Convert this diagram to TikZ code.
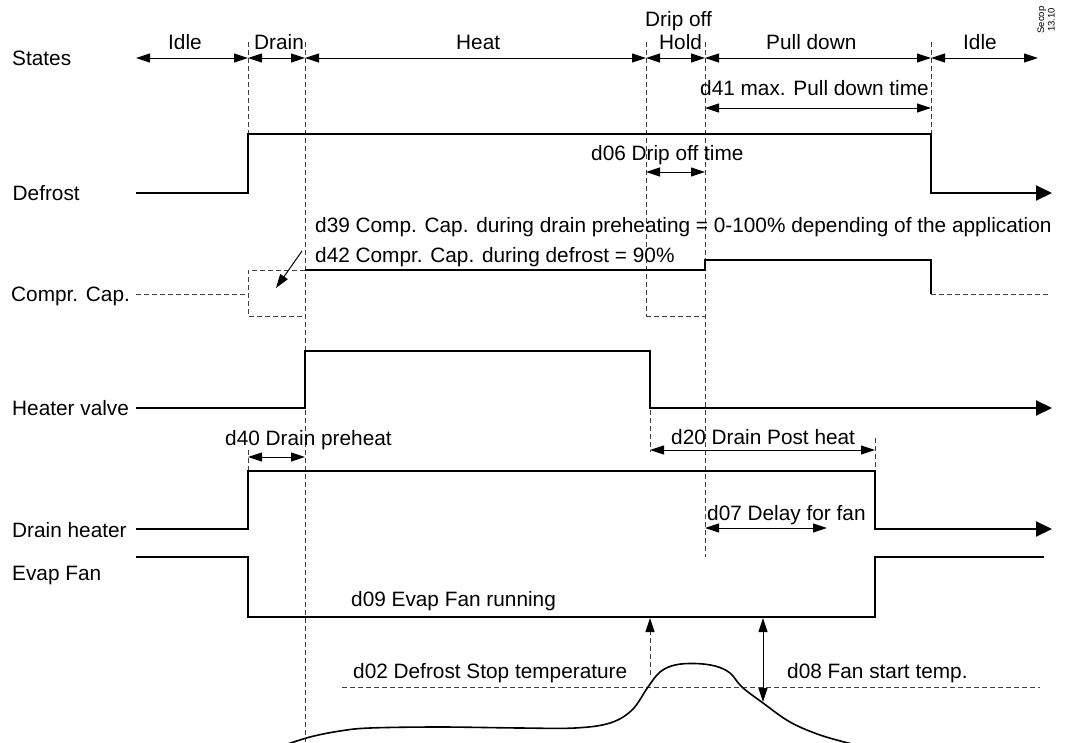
\documentclass[tikz,border=0pt]{standalone}
\usepackage{fontspec}
\setmainfont{Liberation Sans}
\usetikzlibrary{arrows.meta}
\tikzset{
 sig/.style={line width=2pt, line cap=butt, line join=miter},
 sigend/.style={sig, -{Triangle[length=16pt,width=15pt]}},
 dim/.style={line width=1pt, {Triangle[length=14pt,width=9pt]}-{Triangle[length=14pt,width=9pt]}},
 onetip/.style={line width=1pt, -{Triangle[length=14pt,width=9pt]}},
 guide/.style={line width=0.9pt, dash pattern=on 5pt off 3pt, black!75},
 lbl/.style={anchor=base west, inner sep=0pt, font=\fontsize{20.8}{25}\selectfont},
}
\begin{document}
\begin{tikzpicture}[x=1pt,y=-1pt]
\useasboundingbox (0,0) rectangle (1066,742);
\clip (0,0) rectangle (1066,742);
% guide lines
\draw[guide] (248,42) -- (248,134);
\draw[guide] (305,42) -- (305,742);
\draw[guide] (646,42) -- (646,316);
\draw[guide] (705,42) -- (705,557);
\draw[guide] (931,42) -- (931,134);
% states row
\node[lbl] (states) at (12,65) {States};
\node[lbl] (idle1) at (168,49) {Idle};
\node[lbl] (drain) at (254,49) {Drain};
\node[lbl] (heat) at (456,49) {Heat};
\node[lbl] (dripoff) at (645,26) {Drip off};
\node[lbl] (hold) at (659,49) {Hold};
\node[lbl] (pulldown) at (766,49) {Pull down};
\node[lbl] (idle2) at (963,49) {Idle};
\coordinate (s0) at (136,58);
\coordinate (s1) at (248,58);
\coordinate (s2) at (305,58);
\coordinate (s3) at (646,58);
\coordinate (s4) at (705,58);
\coordinate (s5) at (931,58);
\coordinate (s6) at (1038,58);
\draw[dim] (s0) -- (s1);
\draw[dim] (s1) -- (s2);
\draw[dim] (s2) -- (s3);
\draw[dim] (s3) -- (s4);
\draw[dim] (s4) -- (s5);
\draw[dim] (s5) -- (s6);
% d41
\node[lbl] (d41) at (700,95) {d41 max. Pull down time};
\draw[dim] (705,108) -- (931,108);
% Defrost
\node[lbl] (defrost) at (12.5,200) {Defrost};
\draw[sigend] (136,193) -- (248,193) -- (248,134) -- (931,134) -- (931,193) -- (1052,193);
\node[lbl] (d06) at (591,160) {d06 Drip off time};
\draw[dim] (646,172) -- (705,172);
% Compr. Cap.
\node[lbl] (compr) at (11,301) {Compr. Cap.};
\draw[guide] (136,294) -- (248,294);
\draw[guide] (305,270) -- (248,270) -- (248,316) -- (305,316);
\draw[guide] (646,316) -- (705,316);
\draw[sig] (305,270) -- (705,270) -- (705,260) -- (931,260) -- (931,294);
\draw[guide] (931,294) -- (1048,294);
\node[lbl] (d39) at (315,232) {d39 Comp. Cap. during drain preheating = 0-100\% depending of the application};
\node[lbl] (d42) at (315,262) {d42 Compr. Cap. during defrost = 90\%};
\coordinate (d39a) at (302,251);
\coordinate (d39b) at (276,288);
\draw[onetip] (d39a) -- (d39b);
% Heater valve
\node[lbl] (heater) at (12,415) {Heater valve};
\draw[sigend] (136,408) -- (305,408) -- (305,351) -- (650,351) -- (650,408) -- (1052,408);
% d40, d20
\node[lbl] (d40) at (225,445) {d40 Drain preheat};
\draw[guide] (248,450) -- (248,471);
\draw[dim] (248,457) -- (305,457);
\node[lbl] (d20) at (671,444) {d20 Drain Post heat};
\draw[guide] (650,410) -- (650,452);
\draw[guide] (875,438) -- (875,471);
\draw[dim] (650,450) -- (875,450);
% Drain heater
\node[lbl] (dheater) at (12,537) {Drain heater};
\draw[sigend] (136,529) -- (248,529) -- (248,471) -- (875,471) -- (875,529) -- (1052,529);
\node[lbl] (d07) at (707,520) {d07 Delay for fan};
\draw[dim] (705,528) -- (827,528);
% Evap fan
\node[lbl] (fan) at (12,580) {Evap Fan};
\draw[sig] (136,557) -- (248,557) -- (248,617) -- (875,617) -- (875,557) -- (1044,557);
\node[lbl] (d09) at (351,606) {d09 Evap Fan running};
% temperature
\node[lbl] (d02) at (353,678) {d02 Defrost Stop temperature};
\node[lbl] (d08) at (787,678) {d08 Fan start temp.};
\draw[guide] (342,687) -- (1040,687);
\draw[guide] (650,675) -- (650,630);
\draw[onetip] (650,630) -- (650,618);
\draw[dim] (763,618) -- (763,702);
\draw[line width=1.6pt] plot[smooth, tension=0.6] coordinates {(282,746) (310,737) (340,731) (370,728) (440,727) (520,728) (575,728) (610,723) (632,710) (648,687) (660,672) (675,665) (695,663.5) (715,666) (730,673) (742,687) (763,703) (790,722) (820,735) (852,744)};
% Secop
\node[rotate=90, align=center, inner sep=0pt, font=\fontsize{9.5}{10.5}\selectfont] (secop) at (1046,20) {Secop\\13.10};
\end{tikzpicture}
\end{document}
